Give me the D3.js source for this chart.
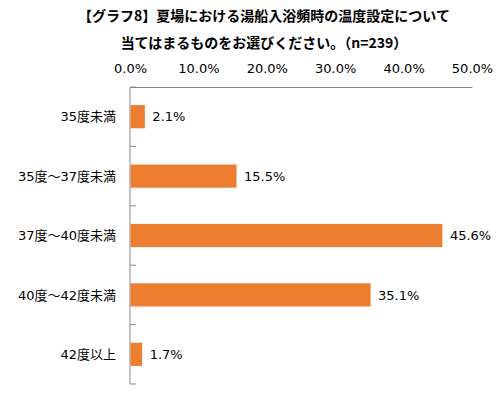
<!doctype html>
<html>
  <head>
    <meta charset="utf-8">
    <title>グラフ8</title>
    <style>
      body { margin: 0; background: #fff; }
      text { font-family: "DejaVu Sans", "Noto Sans CJK JP", sans-serif; fill: #000; }
      .title { font-family: "Noto Sans CJK JP", sans-serif; font-weight: bold; font-size: 14px; }
      .axis path, .axis line { stroke: #898989; }
    </style>
  </head>
  <body>
  <script src="https://d3js.org/d3.v7.min.js" charset="utf-8"></script>
  <script>

    var categories = ["35度未満", "35度～37度未満", "37度～40度未満", "40度～42度未満", "42度以上"];
    var values = [2.1, 15.5, 45.6, 35.1, 1.7];
    var tickValues = [0, 10, 20, 30, 40, 50];
    var titleLines = ["【グラフ8】夏場における湯船入浴頻時の温度設定について", "当てはまるものをお選びください。（n=239）"];

    var width = 504, height = 398;
    var plotLeft = 130, plotRight = 472, plotTop = 87, plotBottom = 384;

    var svg = d3.select("body").append("svg")
      .attr("width", width)
      .attr("height", height);

    var x = d3.scaleLinear().domain([0, 50]).range([plotLeft, plotRight]);
    var y = d3.scaleBand().domain(categories).range([plotTop, plotBottom])
      .paddingInner(0.61).paddingOuter(0.305);

    svg.selectAll(".title")
      .data(titleLines)
      .enter().append("text")
      .attr("class", "title")
      .attr("x", 264)
      .attr("y", function(d, i) { return 21 + i * 27; })
      .attr("text-anchor", "middle")
      .text(function(d) { return d; });

    // top axis
    var xAxis = d3.axisTop(x)
      .tickValues(tickValues)
      .tickSize(0)
      .tickPadding(14)
      .tickFormat(function(d) { return d.toFixed(1) + "%"; });

    var gx = svg.append("g")
      .attr("class", "axis")
      .attr("transform", "translate(0," + plotTop + ")")
      .call(xAxis);
    gx.attr("font-family", null).attr("font-size", null);
    gx.selectAll("text").style("font-size", "13px").attr("fill", null);

    // left axis line + separators
    var ga = svg.append("g").attr("class", "axis");
    ga.append("line")
      .attr("x1", plotLeft).attr("x2", plotLeft)
      .attr("y1", plotTop).attr("y2", plotBottom);
    ga.selectAll(".sep")
      .data(d3.range(categories.length + 1))
      .enter().append("line")
      .attr("class", "sep")
      .attr("x1", plotLeft).attr("x2", plotLeft + 6)
      .attr("y1", function(i) { return plotTop + i * y.step(); })
      .attr("y2", function(i) { return plotTop + i * y.step(); });

    svg.selectAll(".bar")
      .data(values)
      .enter().append("rect")
      .attr("class", "bar")
      .attr("x", x(0) + 0.5)
      .attr("y", function(d, i) { return y(categories[i]); })
      .attr("width", function(d) { return x(d) - x(0); })
      .attr("height", y.bandwidth())
      .attr("fill", "#ED7D31");

    svg.selectAll(".cat")
      .data(categories)
      .enter().append("text")
      .attr("class", "cat")
      .attr("x", 116)
      .attr("y", function(d) { return y(d) + y.bandwidth() / 2; })
      .attr("dy", "0.36em")
      .attr("text-anchor", "end")
      .style("font-size", "13px")
      .text(function(d) { return d; });

    svg.selectAll(".val")
      .data(values)
      .enter().append("text")
      .attr("class", "val")
      .attr("x", function(d) { return x(d) + 8; })
      .attr("y", function(d, i) { return y(categories[i]) + y.bandwidth() / 2; })
      .attr("dy", "0.36em")
      .style("font-size", "13px")
      .text(function(d) { return d.toFixed(1) + "%"; });

  </script>
  </body>
</html>
